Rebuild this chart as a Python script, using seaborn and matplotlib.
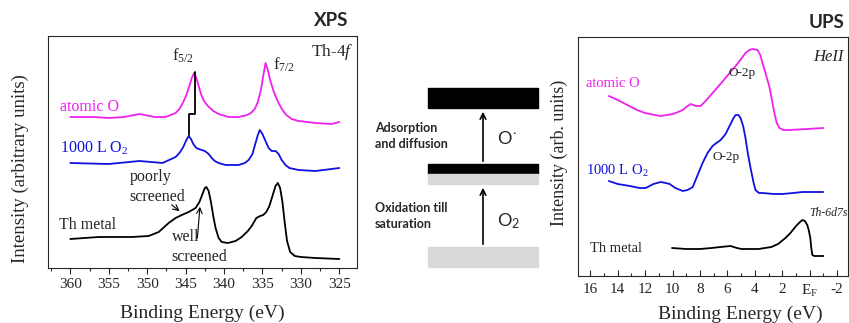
import matplotlib
matplotlib.use("Agg")
import matplotlib.pyplot as plt
import matplotlib.patches as mpatches
from matplotlib.ticker import MultipleLocator, FixedLocator
import seaborn as sns

# ---------------- XPS DATA (Th-4f) ----------------
xps_e_atomic = [360.0, 357.0, 355.0, 353.0, 351.0, 349.0, 347.6, 346.3, 345.8, 345.3, 344.9,
                344.5, 344.2, 343.9, 343.6, 343.3, 343.0, 342.6, 342.1, 341.4, 340.7,
                339.4, 338.1, 337.0, 336.5, 336.0, 335.6, 335.2, 334.9, 334.6, 334.3,
                334.0, 333.6, 333.2, 332.9, 332.4, 331.9, 331.2, 330.3, 328.1, 326.0, 325.0]
xps_i_atomic = [151, 151, 150, 151, 154, 151, 151, 155, 159, 166, 173,
                182, 190, 195, 190, 182, 174, 167, 162, 157, 154,
                151, 151, 153, 155, 159, 166, 178, 192, 205, 198,
                188, 178, 170, 165, 158, 153, 149, 147, 145, 144, 146]

xps_e_o2 = [360.0, 355.0, 351.0, 348.0, 346.3, 345.8, 345.3, 344.9, 344.6, 344.3, 344.0,
            343.6, 343.3, 342.9, 342.5, 342.0, 341.6, 341.2, 340.7, 339.8, 338.1, 337.3,
            336.8, 336.3, 335.9, 335.6, 335.35, 335.0, 334.6, 334.2, 333.8, 333.3, 332.9,
            332.5, 332.0, 331.5, 330.3, 328.1, 325.0]
xps_i_o2 = [105, 104, 107, 105, 111, 115, 121, 128, 132, 129, 124,
            120, 119, 118, 117, 114, 110, 107, 105, 103, 103, 105,
            108, 114, 125, 133, 138, 134, 127, 120, 117, 117, 114,
            108, 103, 100, 98, 97, 100]

xps_e_metal = [360.0, 356.3, 352.0, 349.8, 348.5, 347.2, 346.3, 345.5, 344.6, 343.7, 343.2,
               342.8, 342.5, 342.3, 342.0, 341.7, 341.4, 341.1, 340.7, 340.3, 339.5, 338.5,
               337.7, 336.9, 336.4, 335.8, 335.3, 334.9, 334.5, 334.1, 333.7, 333.3, 333.0,
               332.7, 332.4, 332.1, 331.8, 331.4, 330.8, 330.0, 328.1, 325.0]
xps_i_metal = [29, 31, 31, 32, 36, 45, 50, 53, 56, 60, 66,
               74, 80, 81, 77, 66, 52, 40, 30, 26, 25, 27,
               31, 37, 42, 50, 52, 53, 56, 62, 72, 82, 85,
               80, 66, 45, 27, 16, 12, 11, 10, 9]

# step line linking the f5/2 peaks
link_e = [344.5, 344.5, 343.8, 343.8]
link_i = [133, 154, 154, 196]

# ---------------- UPS DATA (HeII) ----------------
ups_e_atomic = [14.65, 14.0, 13.3, 12.6, 12.0, 11.3, 10.86, 10.4, 9.99, 9.6, 9.26, 8.9,
                8.68, 8.3, 7.95, 7.59, 7.08, 6.57, 6.2, 5.84, 5.40, 5.0, 4.68, 4.4, 4.17,
                3.80, 3.6, 3.44, 3.2, 2.93, 2.75, 2.57, 2.4, 2.20, 1.9, 1.48, 0.17, -0.99]
ups_i_atomic = [180, 176, 171, 166, 163, 161, 160, 161, 162, 164, 166, 170,
                172, 170, 170, 175, 183, 191, 197, 203, 210, 217, 223, 226, 227,
                226, 221, 213, 202, 189, 176, 163, 153, 148, 146, 146, 147, 148]

ups_e_o2 = [14.65, 14.0, 13.12, 12.4, 11.96, 11.4, 10.86, 10.5, 10.21, 9.8, 9.26, 8.9,
            8.53, 8.2, 7.81, 7.45, 7.08, 6.8, 6.49, 6.13, 5.77, 5.55, 5.40, 5.2, 5.04,
            4.85, 4.68, 4.5, 4.31, 4.1, 3.95, 3.7, 3.44, 2.6, 1.99, 1.2, 0.53, -0.99]
ups_i_o2 = [95, 92, 90, 88, 88, 92, 94, 93, 92, 88, 85, 86,
            89, 100, 113, 123, 130, 133, 136, 142, 152, 158, 161, 161, 158,
            150, 138, 122, 108, 94, 86, 83, 83, 82, 82, 83, 84, 84]

ups_e_metal = [10.04, 9.0, 8.0, 7.15, 6.5, 5.77, 5.3, 4.97, 3.73, 2.79, 2.3, 1.77,
               1.4, 0.99, 0.7, 0.53, 0.35, 0.17, 0.05, -0.05, -0.12, -0.2, -0.34, -1.0]
ups_i_metal = [28, 27, 27, 28, 29, 30, 28, 27, 27, 29, 32, 38,
               43, 50, 54, 56, 55, 51, 45, 38, 28, 21, 20, 20]

ups_ticks = [16, 14, 12, 10, 8, 6, 4, 2, 0, -2]
ups_ticklabels = ["16", "14", "12", "10", "8", "6", "4", "2", r"E$_\mathrm{F}$", "-2"]

MAGENTA = "#f020f0"
BLUE = "#1010e0"

# ---------------- STYLE ----------------
sns.set_style("ticks")
plt.rcParams["font.family"] = ["Liberation Serif", "DejaVu Serif"]
plt.rcParams["mathtext.fontset"] = "custom"
plt.rcParams["mathtext.rm"] = "Liberation Serif"
plt.rcParams["mathtext.it"] = "Liberation Serif:italic"
plt.rcParams["mathtext.sf"] = "Lato"
plt.rcParams["axes.linewidth"] = 0.8

fig = plt.figure(figsize=(8.49, 3.23), dpi=100)
W, H = 849, 323


def px_axes(x0, y0, x1, y1):
    return fig.add_axes([x0 / W, 1 - y1 / H, (x1 - x0) / W, (y1 - y0) / H])


# ---------------- XPS PANEL ----------------
ax1 = px_axes(48, 36, 357, 268)
lw = 1.3
sns.lineplot(x=xps_e_atomic, y=xps_i_atomic, sort=False, estimator=None, color=MAGENTA, lw=lw, ax=ax1)
sns.lineplot(x=xps_e_o2, y=xps_i_o2, sort=False, estimator=None, color=BLUE, lw=lw, ax=ax1)
sns.lineplot(x=xps_e_metal, y=xps_i_metal, sort=False, estimator=None, color="black", lw=lw, ax=ax1)
sns.lineplot(x=link_e, y=link_i, sort=False, estimator=None, color="black", lw=1.3, ax=ax1)

ax1.set_xlim(362.9, 322.7)
ax1.set_ylim(0, 232)
ax1.xaxis.set_major_locator(MultipleLocator(5))
ax1.xaxis.set_minor_locator(MultipleLocator(2.5))
ax1.set_yticks([])
ax1.tick_params(axis="x", which="major", direction="out", length=4, width=0.8, labelsize=11, pad=3)
ax1.tick_params(axis="x", which="minor", direction="out", length=2.5, width=0.8)
ax1.set_xlabel("Binding Energy (eV)", fontsize=14)
ax1.xaxis.set_label_coords(0.498, -0.158)
ax1.set_ylabel("Intensity (arbitrary units)", fontsize=13.5)
ax1.yaxis.set_label_coords(-0.062, 0.43)

ax1.text(361.3, 161, "atomic O", color=MAGENTA, fontsize=11.5, va="center")
ax1.text(361.3, 120, r"1000 L O$_2$", color=BLUE, fontsize=11.5, va="center")
ax1.text(361.5, 43, "Th metal", fontsize=11.5, va="center")
ax1.text(352.3, 91, "poorly", fontsize=11.5, va="center")
ax1.text(352.3, 71, "screened", fontsize=11.5, va="center")
ax1.text(346.8, 31, "well", fontsize=11.5, va="center")
ax1.text(346.8, 11, "screened", fontsize=11.5, va="center")
ax1.text(345.4, 212, r"f$_{5/2}$", fontsize=12, ha="center", va="center")
ax1.text(333.6, 203, r"f$_{7/2}$", fontsize=12, ha="left", va="center")
ax1.text(323.2, 216, r"Th-$\mathit{4f}$", fontsize=12.5, ha="right", va="center")
ax1.annotate("", xy=(345.5, 55), xytext=(347.1, 65),
             arrowprops=dict(arrowstyle="->", lw=0.8, color="black"))
ax1.annotate("", xy=(343.1, 64), xytext=(343.5, 27),
             arrowprops=dict(arrowstyle="->", lw=0.8, color="black"))

# ---------------- UPS PANEL ----------------
ax2 = px_axes(578, 37, 848, 276)
sns.lineplot(x=ups_e_atomic, y=ups_i_atomic, sort=False, estimator=None, color=MAGENTA, lw=lw, ax=ax2)
sns.lineplot(x=ups_e_o2, y=ups_i_o2, sort=False, estimator=None, color=BLUE, lw=lw, ax=ax2)
sns.lineplot(x=ups_e_metal, y=ups_i_metal, sort=False, estimator=None, color="black", lw=lw, ax=ax2)

ax2.set_xlim(16.9, -2.8)
ax2.set_ylim(0, 239)
ax2.xaxis.set_major_locator(FixedLocator(ups_ticks))
ax2.set_xticklabels(ups_ticklabels)
ax2.xaxis.set_minor_locator(MultipleLocator(1))
ax2.set_yticks([])
ax2.tick_params(axis="x", which="major", direction="in", length=4, width=0.8, labelsize=11, pad=5)
ax2.tick_params(axis="x", which="minor", direction="in", length=2.5, width=0.8)
ax2.set_xlabel("Binding Energy (eV)", fontsize=14)
ax2.xaxis.set_label_coords(0.6, -0.123)
ax2.set_ylabel("Intensity (arb. units)", fontsize=13)
ax2.yaxis.set_label_coords(-0.038, 0.517)

ax2.text(16.3, 193, "atomic O", color=MAGENTA, fontsize=10.5, va="center")
ax2.text(16.3, 105, r"1000 L O$_2$", color=BLUE, fontsize=10.5, va="center")
ax2.text(16.0, 28, "Th metal", fontsize=10.5, va="center")
ax2.text(4.96, 203, "O-2p", fontsize=9.5, ha="center", va="center")
ax2.text(6.1, 119, "O-2p", fontsize=9.5, ha="center", va="center")
ax2.text(0.0, 63, "Th-6d7s", fontsize=8.5, style="italic", va="center")
ax2.text(-2.5, 219, "HeII", fontsize=12, style="italic", ha="right", va="center")

# ---------------- TITLES ----------------
fig.text(331 / W, 1 - 20 / H, "XPS", fontsize=13.5, fontweight="bold", family="Lato",
         ha="center", va="center")
fig.text(826 / W, 1 - 22 / H, "UPS", fontsize=13.5, fontweight="bold", family="Lato",
         ha="center", va="center")

# ---------------- MIDDLE SCHEME ----------------
ax3 = fig.add_axes([360 / W, 0, 215 / W, 1])
ax3.set_xlim(360, 575)
ax3.set_ylim(323, 0)
ax3.axis("off")

GREY = "#d9d9d9"
ax3.add_patch(mpatches.Rectangle((428, 88), 110, 20, color="black"))
ax3.add_patch(mpatches.Rectangle((428, 164), 110, 10, color="black"))
ax3.add_patch(mpatches.Rectangle((428, 174), 110, 10, color=GREY))
ax3.add_patch(mpatches.Rectangle((428, 247), 110, 20, color=GREY))
ax3.annotate("", xy=(483, 109), xytext=(483, 164),
             arrowprops=dict(arrowstyle="->", lw=1.2, color="black"))
ax3.annotate("", xy=(483, 185), xytext=(483, 247),
             arrowprops=dict(arrowstyle="->", lw=1.2, color="black"))

mid_font = dict(family="Lato", fontweight="bold", fontsize=9, va="center")
ax3.text(375, 128, "Adsorption", **mid_font)
ax3.text(375, 144, "and diffusion", **mid_font)
ax3.text(375, 208, "Oxidation till", **mid_font)
ax3.text(375, 224, "saturation", **mid_font)
ax3.text(497, 139, "O", family="Lato", fontsize=13, va="center")
ax3.text(512, 133, "•", family="DejaVu Sans", fontsize=4.5, va="center")
ax3.text(497, 221, r"O$_\mathsf{2}$", family="Lato", fontsize=13, va="center")

fig.savefig("out.png", dpi=100)
